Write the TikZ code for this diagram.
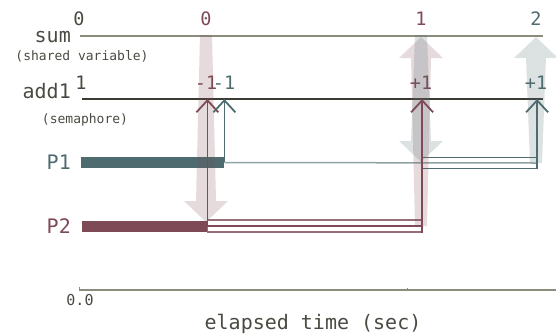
\documentclass[tikz,border=0pt]{standalone}
\usepackage{fontspec}
\setmonofont{DejaVu Sans Mono}
\usetikzlibrary{arrows.meta,calc}
\definecolor{maroon}{HTML}{7D4A55}
\definecolor{tealc}{HTML}{4E6C70}
\definecolor{olivec}{HTML}{8C8C7D}
\definecolor{inkc}{HTML}{3C3C34}
\definecolor{textc}{HTML}{4A4A42}
\definecolor{tealfade}{HTML}{8FA3A5}
\newcommand{\fatarrow}[3]{%
  \fill[#1] let \p1=(#2), \p2=(#3), \n1={sign(\y2-\y1)} in
    (\x1-6pt,\y1) -- (\x2-10pt,\y2-\n1*21pt) -- (\x2-22pt,\y2-\n1*21pt) -- (\x2,\y2)
    -- (\x2+22pt,\y2-\n1*21pt) -- (\x2+10pt,\y2-\n1*21pt) -- (\x1+6pt,\y1) -- cycle;}
\begin{document}
\begin{tikzpicture}[x=1pt,y=-1pt,
  lbl/.style={font=\ttfamily\fontsize{20}{20}\selectfont, inner sep=0pt, anchor=base east},
  sub/.style={font=\ttfamily\fontsize{13}{13}\selectfont, text=textc, inner sep=0pt, anchor=base},
  num/.style={font=\ttfamily\fontsize{18.5}{18.5}\selectfont, inner sep=0pt, anchor=base},
  thinarrow/.style={line width=1.5pt, -{Straight Barb[length=12pt,width=22pt,line width=1.8pt]}},
  fadem/.style={maroon, opacity=0.2},
  fadet/.style={tealc, opacity=0.2},
  hollow/.style={line width=1.1pt}
]
\useasboundingbox (0,0) rectangle (556,333);
% rows
\coordinate (sumL) at (80,36);  \coordinate (sumR) at (543,36);
\coordinate (addL) at (82,99);  \coordinate (addR) at (543,99);
\draw[olivec, line width=1.5pt] (sumL) -- (sumR);
\draw[inkc, line width=1.1pt] (addL) -- (addR);
% labels
\node[lbl, text=textc] (sumlbl) at (71,42) {sum};
\node[sub] (sumsub) at (82,60) {(shared variable)};
\node[lbl, text=textc] (addlbl) at (71,98) {add1};
\node[sub] (addsub) at (85,123) {(semaphore)};
\node[lbl, text=tealc] (p1lbl) at (71,169) {P1};
\node[lbl, text=maroon] (p2lbl) at (71,233) {P2};
% values
\node[num, text=textc] (v0) at (79,25) {0};
\node[num, text=maroon] (v1) at (206,25) {0};
\node[num, text=maroon] (v2) at (421,25) {1};
\node[num, text=tealc] (v3) at (536,25) {2};
\node[num, text=textc] (a0) at (81,89) {1};
\node[num, text=maroon] (a1) at (206,89) {-1};
\node[num, text=tealc] (a2) at (224,89) {-1};
\node[num, text=maroon] (a3) at (421,89) {+1};
\node[num, text=tealc] (a4) at (536,89) {+1};
% process bars
\node[fill=tealc, inner sep=0pt, minimum width=143pt, minimum height=11pt, anchor=west] (p1bar) at (81,162.5) {};
\node[fill=maroon, inner sep=0pt, minimum width=125pt, minimum height=11pt, anchor=west] (p2bar) at (82,226.5) {};
% P1 waiting & second phase
\draw[tealfade, line width=1.5pt] (p1bar.east) -- (536,163);
\node[draw=tealc, hollow, inner sep=0pt, minimum width=114pt, minimum height=10.5pt, anchor=west] (p1box) at (422,163) {};
% P2 second phase
\node[draw=maroon!80, hollow, inner sep=0pt, minimum width=214pt, minimum height=12pt, anchor=west] (p2box) at (207,226) {};
\draw[maroon, line width=1.3pt] (p2box.west) -- (p2box.east);
% fat arrows
\coordinate (sA) at (206,35);  \coordinate (pA) at (206,222);
\coordinate (pB) at (421,226); \coordinate (sB) at (421,37);
\coordinate (sC) at (421,35);  \coordinate (pC) at (421,162);
\coordinate (pD) at (536,163); \coordinate (sD) at (536,37);
\fatarrow{fadem}{sA}{pA}
\fatarrow{fadem}{pB}{sB}
\fatarrow{fadet}{sC}{pC}
\fatarrow{fadet}{pD}{sD}
% thin arrows to semaphore
\draw[thinarrow, maroon] (p2bar.east) -- (p2bar.east |- addL);
\draw[thinarrow, tealc] (p1bar.north east) ++(0,5.5) coordinate (t1) -- (t1 |- addL);
\draw[thinarrow, maroon] (p2box.south east) -- (p2box.east |- addL);
\draw[thinarrow, tealc] (p1box.south east) -- (p1box.east |- addL);
% time axis
\coordinate (axL) at (79,290); \coordinate (axR) at (556,290);
\draw[olivec, line width=1.1pt] (axL) -- (axR);
\draw[olivec, line width=1pt] (axL) -- ++(0,-3.5);
\draw[olivec, line width=1pt] (407,290) -- ++(0,-2);
\node[sub, font=\ttfamily\fontsize{15}{15}\selectfont] (t0) at (80,305) {0.0};
\node[sub, font=\ttfamily\fontsize{20}{20}\selectfont] (tl) at (313,329) {elapsed time (sec)};
\end{tikzpicture}
\end{document}
